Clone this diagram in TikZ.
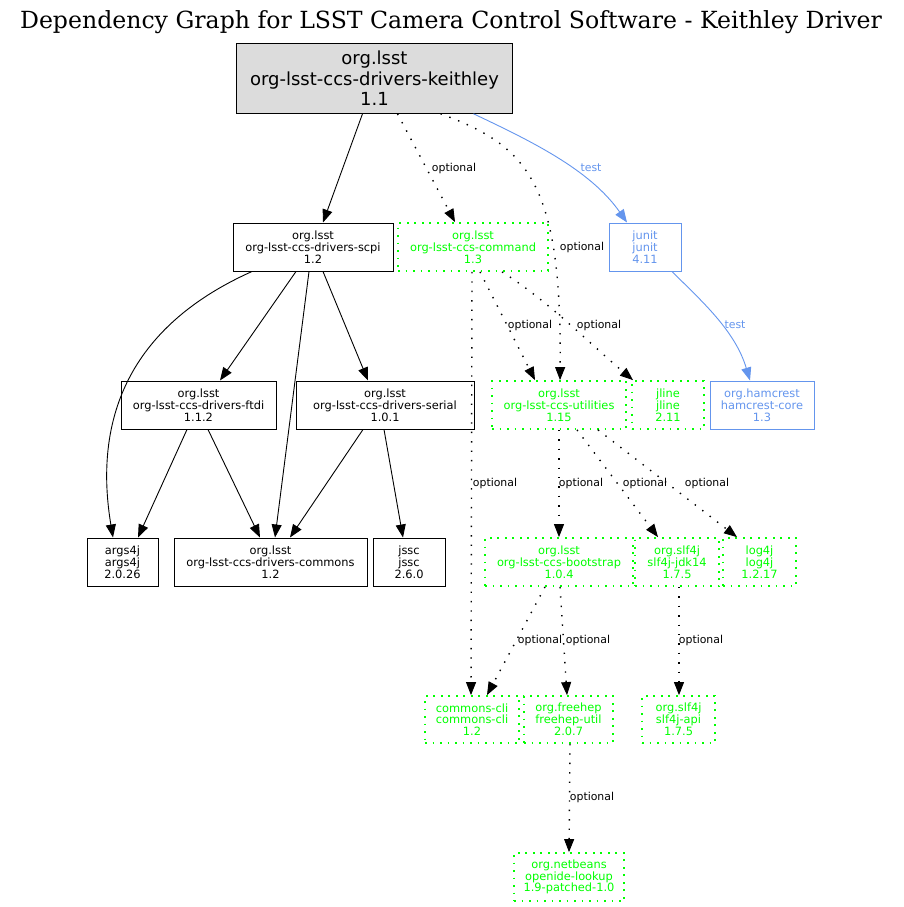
\documentclass[tikz,border=0pt]{standalone}
\usepackage{fontspec}
\setmainfont{DejaVu Sans}
\newfontfamily\titlefont{DejaVu Serif}
\usetikzlibrary{arrows.meta}
\definecolor{optgreen}{HTML}{00FF00}
\definecolor{testblue}{HTML}{6495ED}
\definecolor{rootgray}{HTML}{DCDCDC}
\tikzset{
  box/.style={draw=black, line width=1pt, rectangle, align=center, inner sep=0pt,
    minimum height=48pt, font=\fontsize{11.4}{11.8}\selectfont},
  optbox/.style={box, draw=optgreen, text=optgreen, line width=1.8pt, dash pattern=on 1.8pt off 5.7pt},
  testbox/.style={box, draw=testblue, text=testblue},
  dep/.style={line width=0.9pt, -{Triangle[length=13pt,width=10pt]}},
  optdep/.style={dep, line width=1.4pt, dash pattern=on 1.4pt off 8pt, -{Triangle[length=13pt,width=10pt,line width=0.9pt]}},
  testdep/.style={dep, draw=testblue, -{Triangle[length=13pt,width=10pt,fill=testblue]}},
  lbl/.style={inner sep=0pt, font=\fontsize{10.9}{12}\selectfont},
  tlbl/.style={lbl, text=testblue}
}
\begin{document}
\begin{tikzpicture}[x=1pt,y=-1pt]
\useasboundingbox (0,0) rectangle (903,907);
\node[font=\titlefont\fontsize{23.6}{26}\selectfont, anchor=base] (title) at (451,29) {Dependency Graph for LSST Camera Control Software - Keithley Driver};

\node[box, fill=rootgray, minimum width=276pt, minimum height=70pt, font=\fontsize{18}{20.5}\selectfont] (root) at (374.5,78.3) {org.lsst\\org-lsst-ccs-drivers-keithley\\1.1};

\node[box, minimum width=160pt] (scpi) at (313,247) {org.lsst\\org-lsst-ccs-drivers-scpi\\1.2};
\node[optbox, minimum width=150pt] (command) at (473,247) {org.lsst\\org-lsst-ccs-command\\1.3};
\node[testbox, minimum width=72pt] (junit) at (645,247) {junit\\junit\\4.11};

\node[box, minimum width=155pt] (ftdi) at (198.5,405) {org.lsst\\org-lsst-ccs-drivers-ftdi\\1.1.2};
\node[box, minimum width=178pt] (serial) at (385,405) {org.lsst\\org-lsst-ccs-drivers-serial\\1.0.1};
\node[optbox, minimum width=134pt] (utilities) at (559,405) {org.lsst\\org-lsst-ccs-utilities\\1.15};
\node[optbox, minimum width=72pt] (jline) at (668,405) {jline\\jline\\2.11};
\node[testbox, minimum width=104pt] (hamcrest) at (762,405) {org.hamcrest\\hamcrest-core\\1.3};

\node[box, minimum width=71pt] (args4j) at (122.5,562) {args4j\\args4j\\2.0.26};
\node[box, minimum width=193pt] (commons) at (270.5,562) {org.lsst\\org-lsst-ccs-drivers-commons\\1.2};
\node[box, minimum width=72pt] (jssc) at (409,562) {jssc\\jssc\\2.6.0};
\node[optbox, minimum width=148pt] (bootstrap) at (559,562) {org.lsst\\org-lsst-ccs-bootstrap\\1.0.4};
\node[optbox, minimum width=84pt] (jdk14) at (677,562) {org.slf4j\\slf4j-jdk14\\1.7.5};
\node[optbox, minimum width=73pt] (log4j) at (759.5,562) {log4j\\log4j\\1.2.17};

\node[optbox, minimum width=94pt, minimum height=47pt] (cli) at (472,719.5) {commons-cli\\commons-cli\\1.2};
\node[optbox, minimum width=89pt, minimum height=47pt] (freehep) at (568.5,719.5) {org.freehep\\freehep-util\\2.0.7};
\node[optbox, minimum width=73pt, minimum height=47pt] (slfapi) at (678.5,719.5) {org.slf4j\\slf4j-api\\1.7.5};

\node[optbox, minimum width=110pt] (netbeans) at (569,877) {org.netbeans\\openide-lookup\\1.9-patched-1.0};

% edges from root
\draw[dep] ([xshift=-12pt]root.south) -- ([xshift=10pt]scpi.north);
\draw[optdep] ([xshift=23pt]root.south) -- ([xshift=-18pt]command.north);
\draw[optdep] ([xshift=66pt]root.south) .. controls +(88,32) and +(2,-196) .. ([xshift=1pt]utilities.north);
\draw[testdep] ([xshift=99pt]root.south) .. controls +(57,27) and +(-37,-53) .. ([xshift=-18pt]junit.north);
\node[lbl] (l1) at (454,168) {optional};
\node[lbl] (l2) at (582,247) {optional};
\node[tlbl] (l3) at (591,168) {test};

% junit -> hamcrest
\draw[testdep] ([xshift=27pt]junit.south) .. controls +(30,30) and +(-15,-50) .. ([xshift=-12pt]hamcrest.north);
\node[tlbl] (l4) at (735,325) {test};

% scpi
\draw[dep] ([xshift=-61pt]scpi.south) .. controls +(-132,59) and +(-18,-108) .. ([xshift=-9.5pt]args4j.north);
\draw[dep] ([xshift=-17pt]scpi.south) -- ([xshift=21.5pt]ftdi.north);
\draw[dep] ([xshift=-4pt]scpi.south) -- ([xshift=4.5pt]commons.north);
\draw[dep] ([xshift=10pt]scpi.south) -- ([xshift=-17pt]serial.north);

% ftdi, serial
\draw[dep] ([xshift=-11.5pt]ftdi.south) -- ([xshift=15.5pt]args4j.north);
\draw[dep] ([xshift=9.5pt]ftdi.south) -- ([xshift=-10.5pt]commons.north);
\draw[dep] ([xshift=-22pt]serial.south) -- ([xshift=19.5pt]commons.north);
\draw[dep] ([xshift=-1pt]serial.south) -- ([xshift=-6pt]jssc.north);

% command
\draw[optdep] ([xshift=7pt]command.south) -- ([xshift=-24pt]utilities.north);
\draw[optdep] ([xshift=29pt]command.south) .. controls +(45,28) and +(-45,-38) .. ([xshift=-35pt]jline.north);
\draw[optdep] ([xshift=-1pt]command.south) -- ([xshift=-1pt]cli.north);
\node[lbl] (l5) at (530,325) {optional};
\node[lbl] (l6) at (599,325) {optional};
\node[lbl] (l7) at (495,483) {optional};

% utilities
\draw[optdep] (utilities.south) -- (bootstrap.north);
\draw[optdep] ([xshift=18pt]utilities.south) -- ([xshift=-19pt]jdk14.north);
\draw[optdep] ([xshift=39pt]utilities.south) -- ([xshift=-22.5pt]log4j.north);
\node[lbl] (l8) at (581,483) {optional};
\node[lbl] (l9) at (645,483) {optional};
\node[lbl] (l10) at (707,483) {optional};

% bootstrap, jdk14, freehep
\draw[optdep] ([xshift=-14pt]bootstrap.south) -- ([xshift=15pt]cli.north);
\draw[optdep] ([xshift=1pt]bootstrap.south) -- ([xshift=-1.5pt]freehep.north);
\draw[optdep] ([xshift=2pt]jdk14.south) -- ([xshift=0.5pt]slfapi.north);
\draw[optdep] ([xshift=1.5pt]freehep.south) -- (netbeans.north);
\node[lbl] (l11) at (540,640) {optional};
\node[lbl] (l12) at (588,640) {optional};
\node[lbl] (l13) at (701,640) {optional};
\node[lbl] (l14) at (592,797) {optional};
\end{tikzpicture}
\end{document}
